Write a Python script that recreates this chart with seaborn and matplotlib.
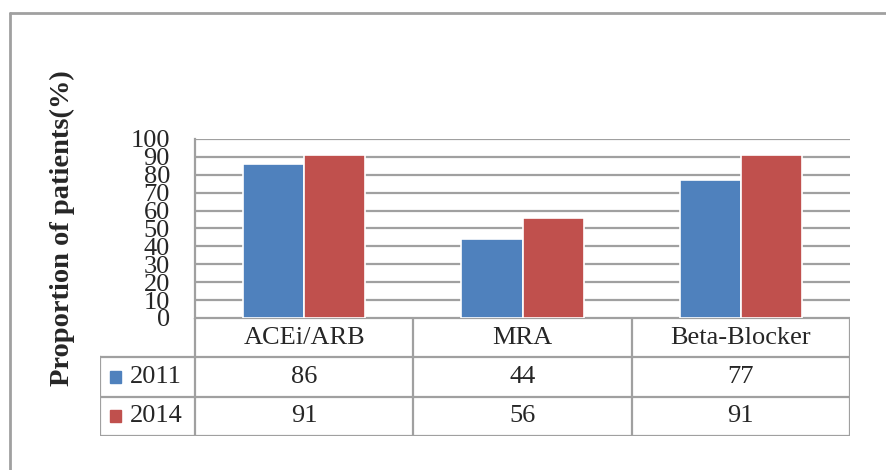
import matplotlib
matplotlib.use("Agg")
import matplotlib.pyplot as plt
import seaborn as sns
import pandas as pd
from matplotlib.patches import Rectangle
from matplotlib.lines import Line2D

categories = ["ACEi/ARB", "MRA", "Beta-Blocker"]
years = ["2011", "2014"]
values_2011 = [86, 44, 77]
values_2014 = [91, 56, 91]
yticks = list(range(0, 101, 10))

colors = ["#4F81BD", "#C0504D"]
grey = "#A0A0A0"

sns.set_theme(style="white")
plt.rcParams["font.family"] = ["Liberation Serif", "DejaVu Serif"]

df = pd.DataFrame({
    "category": categories * 2,
    "year": [years[0]] * 3 + [years[1]] * 3,
    "value": values_2011 + values_2014,
})

fig = plt.figure(figsize=(8.87, 4.70), dpi=100)
W, H = 887, 470

def box(x0, y0, x1, y1):
    return [x0 / W, 1 - y1 / H, (x1 - x0) / W, (y1 - y0) / H]

ax = fig.add_axes(box(195, 139, 850, 318))
sns.barplot(data=df, x="category", y="value", hue="year", palette=colors,
            width=0.56, edgecolor="white", linewidth=1.2, saturation=1,
            ax=ax, legend=False, zorder=3)
ax.set_ylim(0, 100)
ax.set_xlim(-0.5, 2.5)
ax.set_yticks(yticks)
ax.set_yticklabels([str(t) for t in yticks], fontsize=19)
ax.tick_params(axis="y", length=0, pad=18)
ax.set_xticks([])
ax.set_xlabel("")
ax.set_ylabel("")
ax.yaxis.grid(True, color=grey, linewidth=1.6)
ax.set_axisbelow(True)
for side in ["top", "right", "bottom"]:
    ax.spines[side].set_visible(False)
ax.spines["left"].set_color(grey)
ax.spines["left"].set_linewidth(1.6)

# data table under the axis
unit = (850 - 195) / 3.0
left_ext = (195 - 100) / unit
tax = fig.add_axes(box(100, 318, 850, 436))
tax.set_xlim(-0.5 - left_ext, 2.5)
tax.set_ylim(0, 3)
tax.axis("off")
lkw = dict(color=grey, linewidth=1.6, solid_capstyle="projecting")
x_left = -0.5 - left_ext
tax.plot([-0.5, 2.5], [3, 3], **lkw)
tax.plot([x_left, 2.5], [2, 2], **lkw)
tax.plot([x_left, 2.5], [1, 1], **lkw)
tax.plot([x_left, 2.5], [0, 0], **lkw)
tax.plot([x_left, x_left], [0, 2], **lkw)
for xb in [-0.5, 0.5, 1.5, 2.5]:
    tax.plot([xb, xb], [0, 3], **lkw)
for i, cat in enumerate(categories):
    tax.text(i, 2.5, cat, ha="center", va="center", fontsize=19)
for row, (yr, vals, c) in enumerate(zip(years, [values_2011, values_2014], colors)):
    yc = 1.5 - row
    for i, v in enumerate(vals):
        tax.text(i, yc, str(v), ha="center", va="center", fontsize=19)
    tax.add_patch(Rectangle((x_left + 0.045, yc - 0.15), 0.05, 0.30, color=c))
    tax.text(x_left + 0.135, yc, yr, ha="left", va="center", fontsize=19)

fig.text(62 / W, 1 - 228 / H, "Proportion of patients(%)", rotation=90,
         ha="center", va="center", fontsize=20.5, fontweight="bold")

# outer chart frame (top and left edges)
fig.add_artist(Line2D([10 / W, 1], [1 - 13 / H, 1 - 13 / H], color=grey, linewidth=2))
fig.add_artist(Line2D([10 / W, 10 / W], [0, 1 - 13 / H], color=grey, linewidth=2))

fig.savefig("out.png", dpi=100)
